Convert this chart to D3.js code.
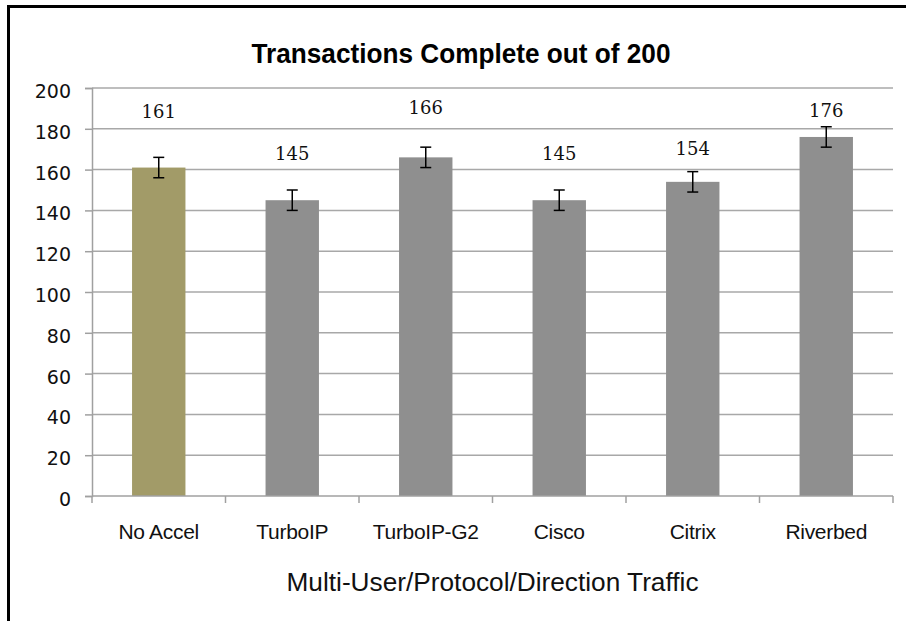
<!DOCTYPE html>
<html>
<head>
<meta charset="utf-8">
<script src="https://cdn.jsdelivr.net/npm/d3@7"></script>
<style>
  body { margin: 0; background: #fff; }
</style>
</head>
<body>
<svg id="chart"></svg>
<script>
const categories = ["No Accel", "TurboIP", "TurboIP-G2", "Cisco", "Citrix", "Riverbed"];
const values = [161, 145, 166, 145, 154, 176];
const errors = [5, 5, 5, 5, 5, 5];
// where each value label sits, in data units
const labelAt = [188.7, 168.1, 190.2, 168.1, 170.1, 189.2];
const yTicks = [0, 20, 40, 60, 80, 100, 120, 140, 160, 180, 200];

const width = 906;
const height = 621;
const margin = { top: 88, right: 13, bottom: 125, left: 92 };
const graphWidth = width - margin.left - margin.right;
const graphHeight = height - margin.top - margin.bottom;

const svg = d3.select("#chart")
    .attr("width", width)
    .attr("height", height);

// frame (top + left edges visible)
svg.append("path")
    .attr("d", `M8.5,${height} V6.5 H${width}`)
    .attr("fill", "none")
    .attr("stroke", "#000")
    .attr("stroke-width", 3);

svg.append("text")
    .attr("x", 461)
    .attr("y", 63)
    .attr("text-anchor", "middle")
    .attr("font-family", "Liberation Sans, Arial, sans-serif")
    .attr("font-weight", "bold")
    .attr("font-size", 28)
    .attr("textLength", 419)
    .attr("lengthAdjust", "spacingAndGlyphs")
    .attr("fill", "#000")
    .text("Transactions Complete out of 200");

const graph = svg.append("g")
    .attr("transform", `translate(${margin.left},${margin.top})`);

const xScale = d3.scaleBand()
    .domain(categories)
    .range([0, graphWidth])
    .paddingInner(0.6)
    .paddingOuter(0.3);

const yScale = d3.scaleLinear()
    .domain([0, 200])
    .range([graphHeight, 0]);

// gridlines
graph.append("g")
    .selectAll("line")
    .data(yTicks.filter(d => d > 0))
    .join("line")
    .attr("x1", 0)
    .attr("x2", graphWidth)
    .attr("y1", d => yScale(d))
    .attr("y2", d => yScale(d))
    .attr("stroke", "#a8a8a8")
    .attr("stroke-width", 1.5);

// y axis
const yAxis = d3.axisLeft(yScale).tickValues(yTicks).tickSize(7).tickPadding(14);
const gy = graph.append("g").call(yAxis);
gy.select(".domain").attr("stroke", "#a0a0a0").attr("stroke-width", 1.5);
gy.selectAll(".tick line").attr("stroke", "#a0a0a0").attr("stroke-width", 1.5);
gy.selectAll(".tick text")
    .attr("font-family", "DejaVu Sans, Verdana, sans-serif")
    .attr("font-size", 19)
    .attr("fill", "#111")
    .attr("dy", "0.5em");

// bars
graph.selectAll(".bar")
    .data(values)
    .join("rect")
    .attr("class", "bar")
    .attr("x", (d, i) => xScale(categories[i]))
    .attr("width", xScale.bandwidth())
    .attr("y", d => yScale(d))
    .attr("height", d => graphHeight - yScale(d))
    .attr("fill", (d, i) => i === 0 ? "#a29b68" : "#8f8f8f");

// x axis line with ticks at category boundaries
const xLin = d3.scaleLinear().domain([0, categories.length]).range([0, graphWidth]);
const gx = graph.append("g").attr("transform", `translate(0,${graphHeight})`);
gx.append("line")
    .attr("x1", 0).attr("x2", graphWidth)
    .attr("stroke", "#a0a0a0").attr("stroke-width", 1.5);
gx.selectAll(".xtick")
    .data(d3.range(categories.length + 1))
    .join("line")
    .attr("class", "xtick")
    .attr("x1", d => xLin(d)).attr("x2", d => xLin(d))
    .attr("y1", 0).attr("y2", 7)
    .attr("stroke", "#a0a0a0").attr("stroke-width", 1.5);
gx.selectAll(".xlabel")
    .data(categories)
    .join("text")
    .attr("class", "xlabel")
    .attr("x", d => xScale(d) + xScale.bandwidth() / 2)
    .attr("y", 43)
    .attr("text-anchor", "middle")
    .attr("font-family", "Liberation Sans, Arial, sans-serif")
    .attr("font-size", 21)
    .attr("letter-spacing", -0.3)
    .attr("fill", "#111")
    .text(d => d);

// error bars
const eb = graph.append("g")
    .attr("stroke", "#000")
    .attr("stroke-width", 1.5);
values.forEach((v, i) => {
    const cx = xScale(categories[i]) + xScale.bandwidth() / 2;
    const top = yScale(v + errors[i]);
    const bot = yScale(v - errors[i]);
    eb.append("line").attr("x1", cx).attr("x2", cx).attr("y1", top).attr("y2", bot);
    eb.append("line").attr("x1", cx - 5.5).attr("x2", cx + 5.5).attr("y1", top).attr("y2", top);
    eb.append("line").attr("x1", cx - 5.5).attr("x2", cx + 5.5).attr("y1", bot).attr("y2", bot);
});

// value labels
graph.selectAll(".vlabel")
    .data(values)
    .join("text")
    .attr("class", "vlabel")
    .attr("x", (d, i) => xScale(categories[i]) + xScale.bandwidth() / 2)
    .attr("y", (d, i) => yScale(labelAt[i]))
    .attr("dy", "0.36em")
    .attr("text-anchor", "middle")
    .attr("font-family", "DejaVu Serif, Georgia, serif")
    .attr("font-size", 18)
    .attr("fill", "#111")
    .text(d => d);

// x axis title
svg.append("text")
    .attr("x", margin.left + graphWidth / 2)
    .attr("y", 591)
    .attr("text-anchor", "middle")
    .attr("font-family", "Liberation Sans, Arial, sans-serif")
    .attr("font-size", 25)
    .attr("textLength", 412)
    .attr("lengthAdjust", "spacingAndGlyphs")
    .attr("fill", "#111")
    .text("Multi-User/Protocol/Direction Traffic");
</script>
</body>
</html>
